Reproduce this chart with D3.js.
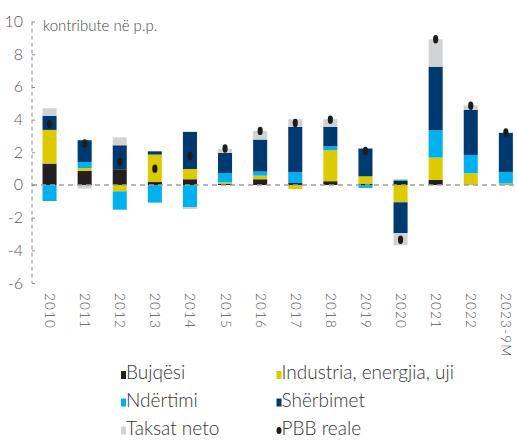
<!DOCTYPE html>
<html>
<head>
<meta charset="utf-8">
<script src="https://cdn.jsdelivr.net/npm/d3@7"></script>
<style>
  html, body { margin: 0; padding: 0; background: #fff; }
  svg { display: block; font-family: "Lato", "Open Sans", sans-serif; font-weight: 300; }
</style>
</head>
<body>
<svg id="chart" width="517" height="440"></svg>
<script>
const years = ["2010","2011","2012","2013","2014","2015","2016","2017","2018","2019","2020","2021","2022","2023-9M"];
const bujqesi    = [1.31, 0.86, 0.96, 0.18, 0.35, 0.08, 0.35, 0.12, 0.23, 0.08, 0.25, 0.31, 0.02, 0.03];
const industria  = [2.06, 0.18, -0.39, 1.68, 0.63, 0.08, 0.22, -0.25, 1.90, 0.45, -1.06, 1.37, 0.70, 0.06];
const ndertimi   = [-0.98, 0.37, -1.12, -1.08, -1.37, 0.57, 0.25, 0.66, 0.23, -0.18, 0.08, 1.67, 1.12, 0.71];
const sherbimet  = [0.86, 1.33, 1.47, 0.20, 2.27, 1.23, 1.96, 2.78, 1.20, 1.70, -1.88, 3.89, 2.76, 2.39];
const taksat     = [0.47, -0.22, 0.49, 0.00, -0.10, 0.25, 0.53, 0.47, 0.47, 0.00, -0.75, 1.68, 0.27, 0.02];
const pbb        = [3.72, 2.54, 1.41, 1.00, 1.78, 2.23, 3.31, 3.80, 4.00, 2.09, -3.35, 8.92, 4.85, 3.21];
const yTicks = [-6, -4, -2, 0, 2, 4, 6, 8, 10];

const seriesNames = ["Bujqësi", "Industria, energjia, uji", "Ndërtimi", "Shërbimet", "Taksat neto"];
const seriesData = [bujqesi, industria, ndertimi, sherbimet, taksat];
const colors = ["#231f20", "#dccb00", "#00b0ef", "#00396f", "#d1d2d4"];

const svg = d3.select("#chart");
const x = d3.scaleBand().domain(years).range([32, 523.4]).paddingInner(0.6).paddingOuter(0.3);
const y = d3.scaleLinear().domain([-6, 10]).range([283, 21.6]);

// stacked bars with positive/negative offset
const rows = years.map((yr, i) => {
  const r = { year: yr };
  seriesNames.forEach((n, k) => r[n] = seriesData[k][i]);
  return r;
});
const stack = d3.stack().keys(seriesNames).offset(d3.stackOffsetDiverging);
const layers = stack(rows);

svg.append("g").selectAll("g").data(layers).join("g")
  .attr("fill", (d, k) => colors[k])
  .selectAll("rect").data(d => d).join("rect")
  .attr("x", d => x(d.data.year))
  .attr("width", x.bandwidth())
  .attr("y", d => y(Math.max(d[0], d[1])))
  .attr("height", d => Math.abs(y(d[0]) - y(d[1])));

// zero line
svg.append("line")
  .attr("x1", 32).attr("x2", 517)
  .attr("y1", y(0)).attr("y2", y(0))
  .attr("stroke", "#a0a0a0").attr("stroke-width", 1.3)
  .attr("stroke-dasharray", "5,4");

// y axis
const yAxis = d3.axisRight(y).tickValues(yTicks).tickSize(3).tickFormat("");
const ya = svg.append("g").attr("transform", "translate(32,0)").call(yAxis);
ya.select(".domain").attr("stroke", "#8a8a8a").attr("stroke-dasharray", "4,3").attr("d", `M0,${y(10)}V${y(-6)}`);
ya.selectAll(".tick line").attr("stroke", "#8a8a8a");
svg.append("g").selectAll("text").data(yTicks).join("text")
  .attr("x", 23).attr("y", d => y(d) + 5.5)
  .attr("text-anchor", "end")
  .attr("font-size", 16)
  .attr("fill", "#555")
  .text(d => d);

// unit label
svg.append("text").attr("x", 43).attr("y", 31)
  .attr("font-size", 15)
  .attr("fill", "#444")
  .text("kontribute në p.p.");

// GDP dots
svg.append("g").selectAll("ellipse").data(years).join("ellipse")
  .attr("cx", d => x(d) + x.bandwidth() / 2)
  .attr("cy", (d, i) => y(pbb[i]))
  .attr("rx", 2.6).attr("ry", 4.2)
  .attr("fill", "#1c1c1c");

// x labels
svg.append("g").selectAll("text").data(years).join("text")
  .attr("transform", d => `translate(${x(d) + x.bandwidth() / 2 - 4.5},293) rotate(90)`)
  .attr("font-size", 13.5)
  .attr("letter-spacing", 1.2)
  .attr("fill", "#555")
  .text(d => d);

// legend
const legendItems = [
  { name: "Bujqësi", color: colors[0], col: 0, row: 0 },
  { name: "Industria, energjia, uji", color: colors[1], col: 1, row: 0 },
  { name: "Ndërtimi", color: colors[2], col: 0, row: 1 },
  { name: "Shërbimet", color: colors[3], col: 1, row: 1 },
  { name: "Taksat neto", color: colors[4], col: 0, row: 2 },
  { name: "PBB reale", color: "#1c1c1c", col: 1, row: 2, dot: true }
];
const colX = [121, 276.5];
const rowY = [379, 406.5, 434.5];
const lg = svg.append("g").selectAll("g").data(legendItems).join("g")
  .attr("transform", d => `translate(${colX[d.col]},${rowY[d.row]})`);
lg.filter(d => !d.dot).append("rect")
  .attr("x", 0).attr("y", -8).attr("width", 5).attr("height", 8)
  .attr("fill", d => d.color);
lg.filter(d => d.dot).append("ellipse")
  .attr("cx", 2.5).attr("cy", -4).attr("rx", 2.5).attr("ry", 3.5)
  .attr("fill", d => d.color);
lg.append("text")
  .attr("x", 5).attr("y", 0)
  .attr("font-size", 19)
  .attr("fill", "#333")
  .text(d => d.name);
</script>
</body>
</html>
